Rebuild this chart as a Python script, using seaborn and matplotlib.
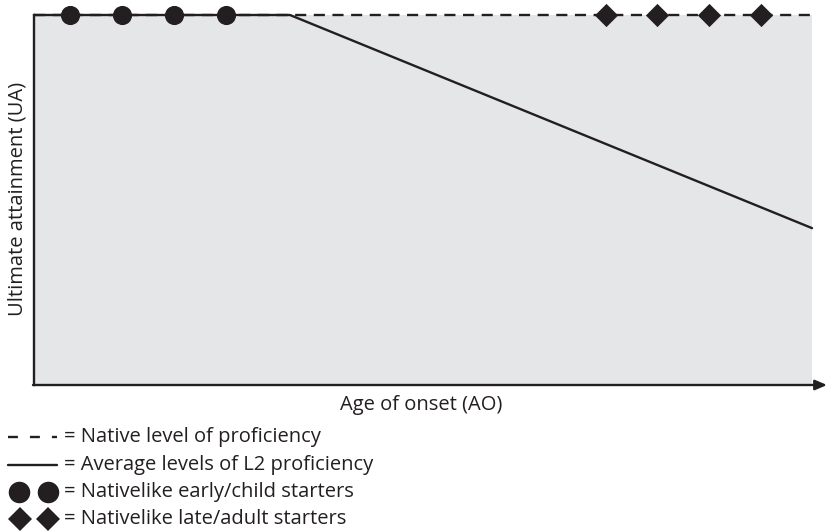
import matplotlib
matplotlib.use("Agg")
import matplotlib.pyplot as plt
import seaborn as sns
import pandas as pd

# Data (axis units 0-100 on both axes)
native_x = [0, 100]
native_y = [100, 100]
l2_x = [0, 32.9, 100]
l2_y = [100, 100, 42.4]
early_x = [4.6, 11.3, 18.0, 24.7]
early_y = [100, 100, 100, 100]
late_x = [73.5, 80.1, 86.8, 93.5]
late_y = [100, 100, 100, 100]

x_label = "Age of onset (AO)"
y_label = "Ultimate attainment (UA)"
legend_labels = [
    "= Native level of proficiency",
    "= Average levels of L2 proficiency",
    "= Nativelike early/child starters",
    "= Nativelike late/adult starters",
]

sns.set_style("white")
plt.rcParams['font.family'] = ['Open Sans', 'DejaVu Sans']

INK = "#231f20"
LW = 1.7
FS = 14.5

fig = plt.figure(figsize=(8.27, 5.32), dpi=100)
W, H = 827, 532


def fx(px):
    return px / W


def fy(py):
    return 1 - py / H


ax = fig.add_axes([34 / W, 1 - 385 / H, (812 - 34) / W, (385 - 15) / H])
ax.set_facecolor("#e5e6e8")
ax.set_xlim(0, 100)
ax.set_ylim(0, 100)

native_df = pd.DataFrame({"x": native_x, "y": native_y})
l2_df = pd.DataFrame({"x": l2_x, "y": l2_y})
early_df = pd.DataFrame({"x": early_x, "y": early_y})
late_df = pd.DataFrame({"x": late_x, "y": late_y})

sns.lineplot(data=l2_df, x="x", y="y", ax=ax, color=INK, lw=LW,
             sort=False, estimator=None, clip_on=False, zorder=3)
sns.lineplot(data=native_df, x="x", y="y", ax=ax, color=INK, lw=LW,
             linestyle=(0, (4.7, 3.2)), estimator=None, clip_on=False, zorder=2)
sns.scatterplot(data=early_df, x="x", y="y", ax=ax, color=INK, s=190,
                marker="o", linewidth=0, clip_on=False, zorder=4)
sns.scatterplot(data=late_df, x="x", y="y", ax=ax, color=INK, s=140,
                marker="D", linewidth=0, clip_on=False, zorder=4)

for s in ["top", "right", "bottom"]:
    ax.spines[s].set_visible(False)
ax.spines["left"].set_color(INK)
ax.spines["left"].set_linewidth(LW)
ax.set_xticks([])
ax.set_yticks([])
ax.set_xlabel("")
ax.set_ylabel("")

# x axis arrow
ax.annotate("", xy=(fx(827), fy(385)), xytext=(fx(33), fy(385)),
            xycoords="figure fraction", textcoords="figure fraction",
            arrowprops=dict(arrowstyle="-|>,head_length=0.7,head_width=0.3",
                            color=INK, lw=LW, shrinkA=0, shrinkB=0))

fig.text(fx(421), fy(405), x_label, ha="center", va="center",
         fontsize=FS, color=INK)
fig.text(fx(18), fy(199), y_label, ha="center", va="center",
         rotation=90, fontsize=FS, color=INK)

# Legend key
ys = [437, 465, 492, 519]
for lab, y in zip(legend_labels, ys):
    fig.text(fx(64), fy(y), lab, ha="left", va="center",
             fontsize=FS, color=INK)

fig.add_artist(plt.Line2D([fx(8), fx(57)], [fy(ys[0]), fy(ys[0])], color=INK,
                          lw=LW, linestyle=(0, (4.2, 5.1))))
fig.add_artist(plt.Line2D([fx(8), fx(57)], [fy(ys[1]), fy(ys[1])], color=INK, lw=LW))
fig.add_artist(plt.Line2D([fx(19), fx(48)], [fy(ys[2]), fy(ys[2])], color=INK,
                          lw=0, marker="o", markersize=15.5, markeredgewidth=0))
fig.add_artist(plt.Line2D([fx(20), fx(48)], [fy(ys[3]), fy(ys[3])], color=INK,
                          lw=0, marker="D", markersize=12.5, markeredgewidth=0))

fig.savefig("out.png", dpi=100)
